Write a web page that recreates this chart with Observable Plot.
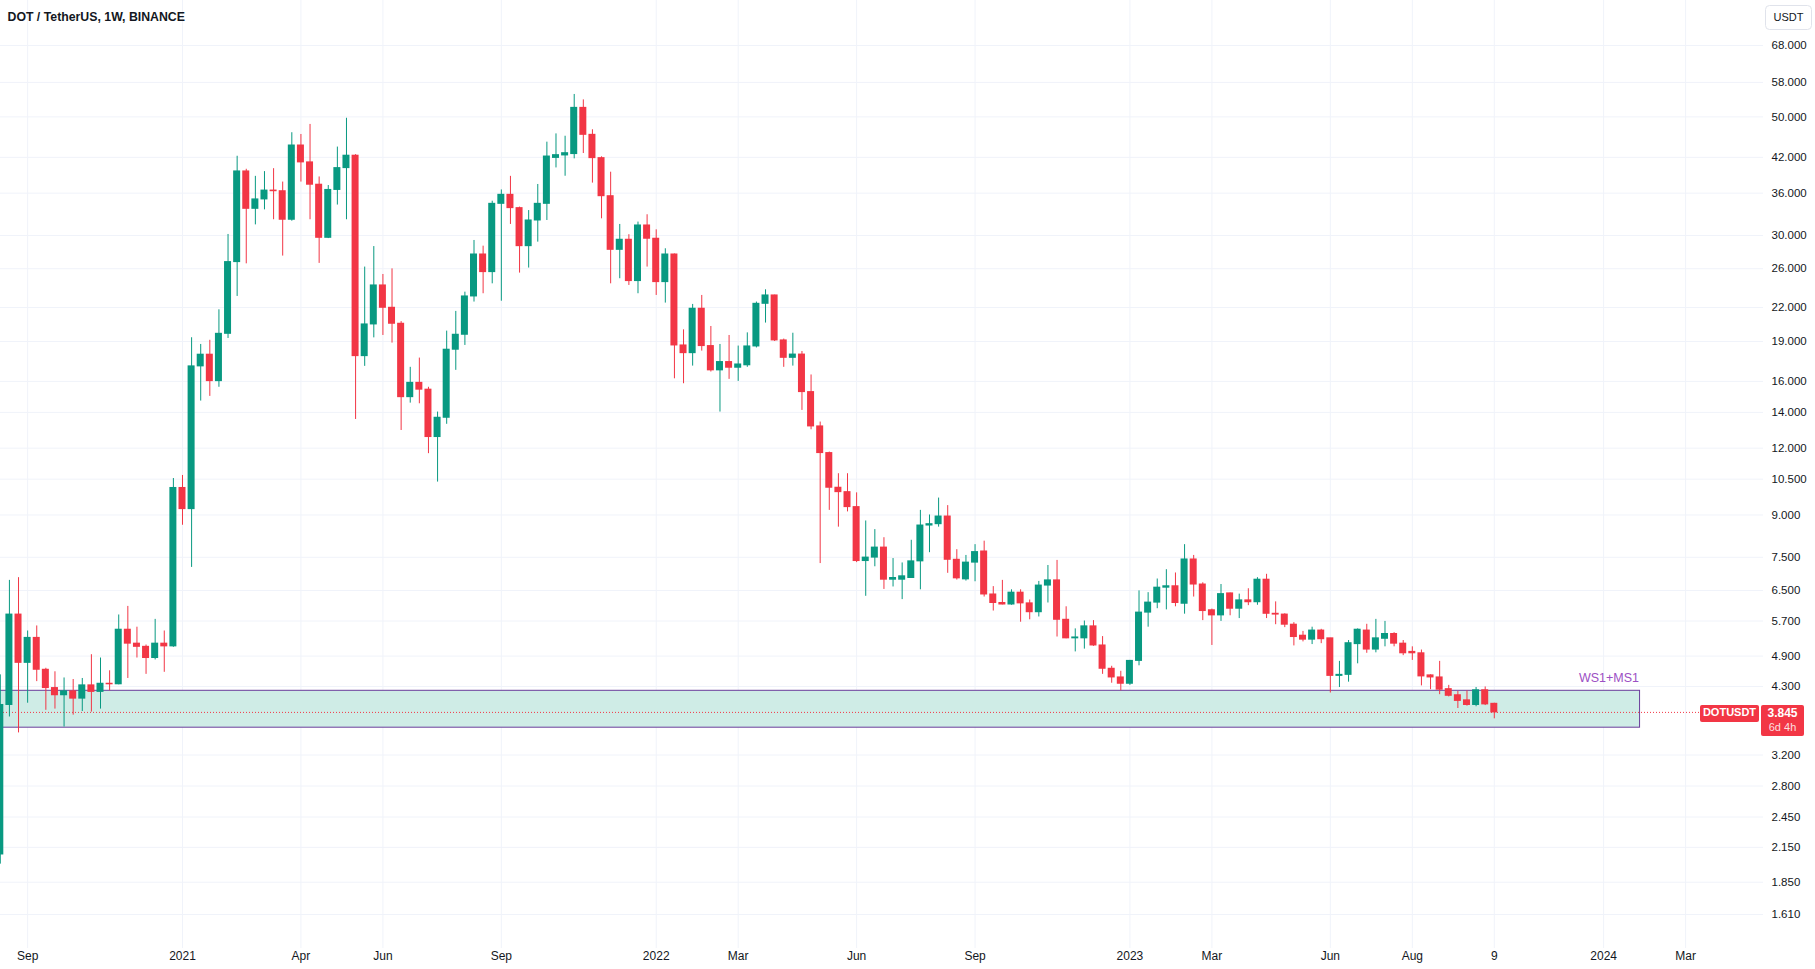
<!DOCTYPE html>
<html><head><meta charset="utf-8">
<script src="https://cdn.jsdelivr.net/npm/d3@7"></script>
<script src="https://cdn.jsdelivr.net/npm/@observablehq/plot@0.6"></script>
<style>
html,body{margin:0;padding:0;background:#fff;}
#chart{position:relative;width:1815px;height:969px;overflow:hidden;background:#fff;}
</style></head><body><div id="chart"></div>
<script>
// ---- data (weekly candles, DOT/USDT Binance) ----
const firstWeek = "2020-08-17";
const opens = [
 2.085,3.97,5.86,4.76,5.30,4.62,4.27,4.14,4.21,4.08,4.32,4.20,4.35,4.34,5.49,5.17,5.10,4.86,5.17,5.11,
 10.11,9.23,17.07,17.95,16.02,19.64,26.75,39.53,33.65,35.04,36.4,36.3,32.1,44.2,41.1,37.33,29.7,36.5,40.1,42.3,17.84,20.45,24.19,21.97,20.51,
 14.95,15.9,15.44,12.59,13.68,18.34,19.56,23.07,27.64,25.62,34.38,35.74,33.75,28.65,32.0,34.38,41.9,42.35,42.6,51.98,46.28,41.86,35.53,28.2,29.45,24.65,31.32,29.58,
 24.54,27.64,18.68,18.07,21.88,18.63,16.78,17.39,16.97,17.15,18.60,22.35,23.17,19.09,17.71,17.96,15.28,13.18,11.75,10.12,9.93,9.31,7.38,7.49,7.82,6.81,6.81,6.86,7.37,8.6,8.65,8.94,7.42,6.82,7.33,
 7.69,6.39,6.16,6.12,6.44,6.15,5.92,6.64,6.79,5.73,5.29,5.29,5.57,5.13,4.64,4.47,4.35,4.80,5.91,6.17,6.58,6.62,6.14,7.43,6.67,5.97,5.84,6.42,6.01,6.23,6.18,6.81,5.88,5.86,5.61,5.35,5.26,5.47,5.29,4.50,4.52,5.16,5.47,5.04,5.28,5.39,5.17,4.99,4.96,4.51,4.47,4.25,4.14,4.05,3.97,4.23,3.99
];
const highs = [
 4.52,6.79,6.87,5.46,5.58,4.65,4.58,4.46,4.43,4.45,4.93,4.86,4.60,5.85,6.07,5.55,5.14,5.74,5.46,10.53,
 10.67,19.31,18.76,19.1,21.78,30.13,42.2,39.9,38.7,39.5,40.0,37.76,46.7,46.35,48.4,38.6,37.2,43.9,49.7,42.5,26.18,28.6,25.36,25.98,20.7,
 17.0,17.69,15.6,14.02,19.87,21.63,23.5,29.36,28.65,34.77,36.5,38.7,33.9,33.4,37.37,44.84,46.47,46.0,55.07,53.8,47.3,42.1,39.4,31.46,30.1,31.78,32.8,30.74,
 28.33,27.7,19.98,22.29,23.17,20.27,18.76,19.50,18.63,19.72,22.52,23.74,23.2,19.2,19.69,18.2,16.45,13.43,11.8,10.75,10.75,9.9,8.77,8.45,8.16,7.46,7.32,8.07,9.18,9.0,9.68,9.37,7.75,7.56,7.92,
 8.04,6.61,6.79,6.52,6.52,6.24,6.76,7.24,7.40,6.06,5.51,5.70,5.71,5.33,4.69,4.59,4.81,6.49,6.44,6.83,7.11,7.01,7.92,7.56,6.72,6.0,6.67,6.43,6.40,6.55,6.87,6.97,6.19,5.88,5.66,5.45,5.55,5.50,5.29,4.79,5.24,5.51,5.62,5.74,5.69,5.42,5.24,5.10,5.03,4.52,4.79,4.32,4.21,4.22,4.28,4.29,4.00
];
const lows = [
 2.00,3.77,3.52,4.00,4.39,3.88,3.90,3.61,3.80,3.86,3.85,3.90,4.22,4.33,4.45,4.86,4.53,4.82,4.57,5.09,
 8.61,7.18,14.70,15.0,15.6,19.25,23.07,26.55,31.4,33.5,32.1,27.45,31.9,37.76,32.1,26.6,29.6,34.2,32.1,13.58,17.07,19.3,19.5,18.87,12.95,
 14.57,14.53,11.72,10.37,13.3,16.78,18.68,22.52,23.34,24.36,22.6,31.46,25.51,26.07,29.15,32.0,40.13,38.72,41.73,42.7,37.59,32.23,24.36,24.9,24.19,23.34,26.18,23.17,
 22.42,16.18,15.84,17.09,18.23,16.66,14.02,16.14,16.0,17.0,18.48,20.57,19.0,17.0,17.09,14.12,12.99,7.30,9.18,8.54,9.12,7.33,6.34,7.2,6.53,6.6,6.25,6.85,6.52,7.65,8.54,7.0,6.8,6.77,6.75,
 6.32,5.95,6.11,6.1,5.67,5.73,5.8,6.16,5.32,5.28,4.99,5.05,5.11,4.53,4.36,4.22,4.32,4.70,5.55,6.01,5.98,6.06,5.87,6.32,5.71,5.13,5.69,5.83,5.76,6.09,6.10,5.76,5.61,5.54,5.12,5.21,5.15,5.17,4.18,4.28,4.38,4.74,4.96,4.97,5.10,5.10,4.91,4.81,4.31,4.24,4.15,4.11,3.91,3.95,3.94,3.96,3.74
];
const closes = [
 3.97,5.86,4.76,5.30,4.62,4.27,4.14,4.21,4.08,4.32,4.20,4.35,4.34,5.49,5.17,5.10,4.86,5.17,5.11,10.11,
 9.23,17.07,17.95,16.02,19.64,26.75,39.53,33.65,35.04,36.4,36.3,32.1,44.2,41.1,37.33,29.7,36.5,40.1,42.3,17.84,20.45,24.19,21.97,20.51,14.95,
 15.9,15.44,12.59,13.68,18.34,19.56,23.07,27.64,25.62,34.38,35.74,33.75,28.65,32.0,34.38,42.15,42.4,42.76,51.98,46.28,41.86,35.53,28.2,29.45,24.65,31.32,29.58,24.54,
 27.64,18.68,18.07,21.88,18.63,16.78,17.39,16.97,17.21,18.60,22.35,23.17,19.09,17.71,17.96,15.28,13.18,11.75,10.12,9.93,9.31,7.38,7.49,7.82,6.81,6.86,6.91,7.37,8.6,8.65,8.94,7.42,6.85,7.33,7.67,
 6.39,6.16,6.12,6.44,6.15,5.92,6.64,6.79,5.73,5.29,5.31,5.57,5.13,4.64,4.47,4.35,4.80,5.91,6.17,6.58,6.62,6.16,7.43,6.67,5.95,5.84,6.40,6.01,6.23,6.18,6.81,5.88,5.86,5.61,5.32,5.26,5.47,5.27,4.50,4.52,5.18,5.49,5.04,5.29,5.39,5.17,4.96,4.96,4.49,4.47,4.24,4.13,4.04,3.97,4.23,3.98,3.845
];

// axis ticks
const yTicks = [68,58,50,42,36,30,26,22,19,16,14,12,10.5,9,7.5,6.5,5.7,4.9,4.3,3.2,2.8,2.45,2.15,1.85,1.61];
const xTickDates = ["2020-09-07","2021-01-04","2021-04-05","2021-06-07","2021-09-06","2022-01-03","2022-03-07","2022-06-06","2022-09-05","2023-01-02","2023-03-06","2023-06-05","2023-08-07","2023-10-09","2024-01-01","2024-03-04"];
const xTickLabels = ["Sep","2021","Apr","Jun","Sep","2022","Mar","Jun","Sep","2023","Mar","Jun","Aug","9","2024","Mar"];

// support zone drawing
const zoneStart = "2020-01-06";
const zoneEnd = "2024-01-29";
const zoneLow = 3.60;
const zoneHigh = 4.22;
const zoneLabel = "WS1+MS1";

const title = "DOT / TetherUS, 1W, BINANCE";
const symbol = "DOTUSDT";
const countdown = "6d 4h";
const currency = "USDT";

// ---- build table ----
const UP = "#089981", DOWN = "#F23645";
const DAY = 864e5, WEEK = 7 * DAY, HALF = 2.69 * DAY;
const t0 = Date.parse(firstWeek + "T00:00Z");
const candles = opens.map((o, i) => ({
  date: new Date(t0 + i * WEEK),
  open: o, high: highs[i], low: lows[i], close: closes[i],
  color: closes[i] >= o ? UP : DOWN
}));
const last = candles[candles.length - 1];
const tickDates = xTickDates.map(s => new Date(s + "T00:00Z"));
const labelOf = new Map(tickDates.map((d, i) => [+d, xTickLabels[i]]));
const zone = [{x1: new Date(zoneStart + "T00:00Z"), x2: new Date(zoneEnd + "T00:00Z"), y1: zoneLow, y2: zoneHigh, label: zoneLabel}];

const FONT = "'Liberation Sans', Arial, sans-serif";

const chart = Plot.plot({
  width: 1815,
  height: 969,
  marginLeft: 0,
  marginRight: 52,
  marginTop: 0,
  marginBottom: 21,
  style: {fontFamily: FONT, fontSize: "12px", color: "#131722", background: "#ffffff", overflow: "visible"},
  x: {type: "utc", domain: [new Date("2020-08-17T03:42Z"), new Date("2024-05-02T20:24Z")]},
  y: {type: "log", domain: [1.61, 68], range: [914, 45]},
  color: {type: "identity"},
  marks: [
    Plot.gridY(yTicks, {stroke: "#f0f3fa", strokeOpacity: 1}),
    Plot.gridX(tickDates, {stroke: "#f0f3fa", strokeOpacity: 1}),
    Plot.rect(zone, {x1: "x1", x2: "x2", y1: "y1", y2: "y2", fill: "#cfece6", stroke: "#6a3d9a", strokeWidth: 1, clip: true}),
    Plot.text(zone, {x: "x2", y: "y2", text: "label", textAnchor: "end", dy: -13, dx: -1, fill: "#9c4fc4", fontSize: 12.5}),
    Plot.ruleY([last.close], {stroke: DOWN, strokeDasharray: "1 2", strokeWidth: 1}),
    Plot.ruleX(candles, {x: "date", y1: "low", y2: "high", stroke: "color", strokeWidth: 1, clip: true}),
    Plot.rect(candles, {
      x1: d => new Date(+d.date - HALF), x2: d => new Date(+d.date + HALF),
      y1: "open", y2: "close", fill: "color", insetTop: -0.5, insetBottom: -0.5, clip: true
    }),
    Plot.axisY(yTicks, {anchor: "right", tickSize: 0, tickPadding: 8, tickFormat: d3.format(".3f"), fontSize: 11.5, fill: "#131722"}),
    Plot.axisX(tickDates, {anchor: "bottom", tickSize: 0, tickPadding: 3, tickFormat: d => labelOf.get(+d), fontSize: 12, fill: "#131722"}),
    Plot.text([title], {frameAnchor: "top-left", dx: 7, dy: 17, fontSize: 12.3, fontWeight: 700, fill: "#131722", lineAnchor: "middle", textAnchor: "start"})
  ]
});
document.getElementById("chart").appendChild(chart);

// ---- price-axis annotations positioned from the scales ----
const ys = chart.scale("y");
const yc = ys.apply(last.close) + 1;
const svg = d3.select(chart);
const g = svg.append("g").attr("font-family", FONT);
// symbol tag
g.append("rect").attr("x", 1700).attr("y", yc - 8).attr("width", 59).attr("height", 17).attr("rx", 2).attr("fill", DOWN);
g.append("text").attr("x", 1729.5).attr("y", yc + 0.5).attr("text-anchor", "middle").attr("dominant-baseline", "middle")
  .attr("fill", "#fff").attr("font-size", 11).attr("font-weight", 700).text(symbol);
// price tag
g.append("rect").attr("x", 1761).attr("y", yc - 8).attr("width", 43).attr("height", 31).attr("rx", 2).attr("fill", DOWN);
g.append("text").attr("x", 1782.5).attr("y", yc + 1).attr("text-anchor", "middle").attr("dominant-baseline", "middle")
  .attr("fill", "#fff").attr("font-size", 12).attr("font-weight", 700).text(d3.format(".3f")(last.close));
g.append("text").attr("x", 1782.5).attr("y", yc + 15).attr("text-anchor", "middle").attr("dominant-baseline", "middle")
  .attr("fill", "#fff").attr("fill-opacity", 0.85).attr("font-size", 11).text(countdown);
// currency box
g.append("rect").attr("x", 1765.5).attr("y", 5.5).attr("width", 46).attr("height", 24).attr("rx", 4)
  .attr("fill", "#fff").attr("stroke", "#e0e3eb");
g.append("text").attr("x", 1788.5).attr("y", 18).attr("text-anchor", "middle").attr("dominant-baseline", "middle")
  .attr("fill", "#131722").attr("font-size", 11).text(currency);
</script></body></html>
